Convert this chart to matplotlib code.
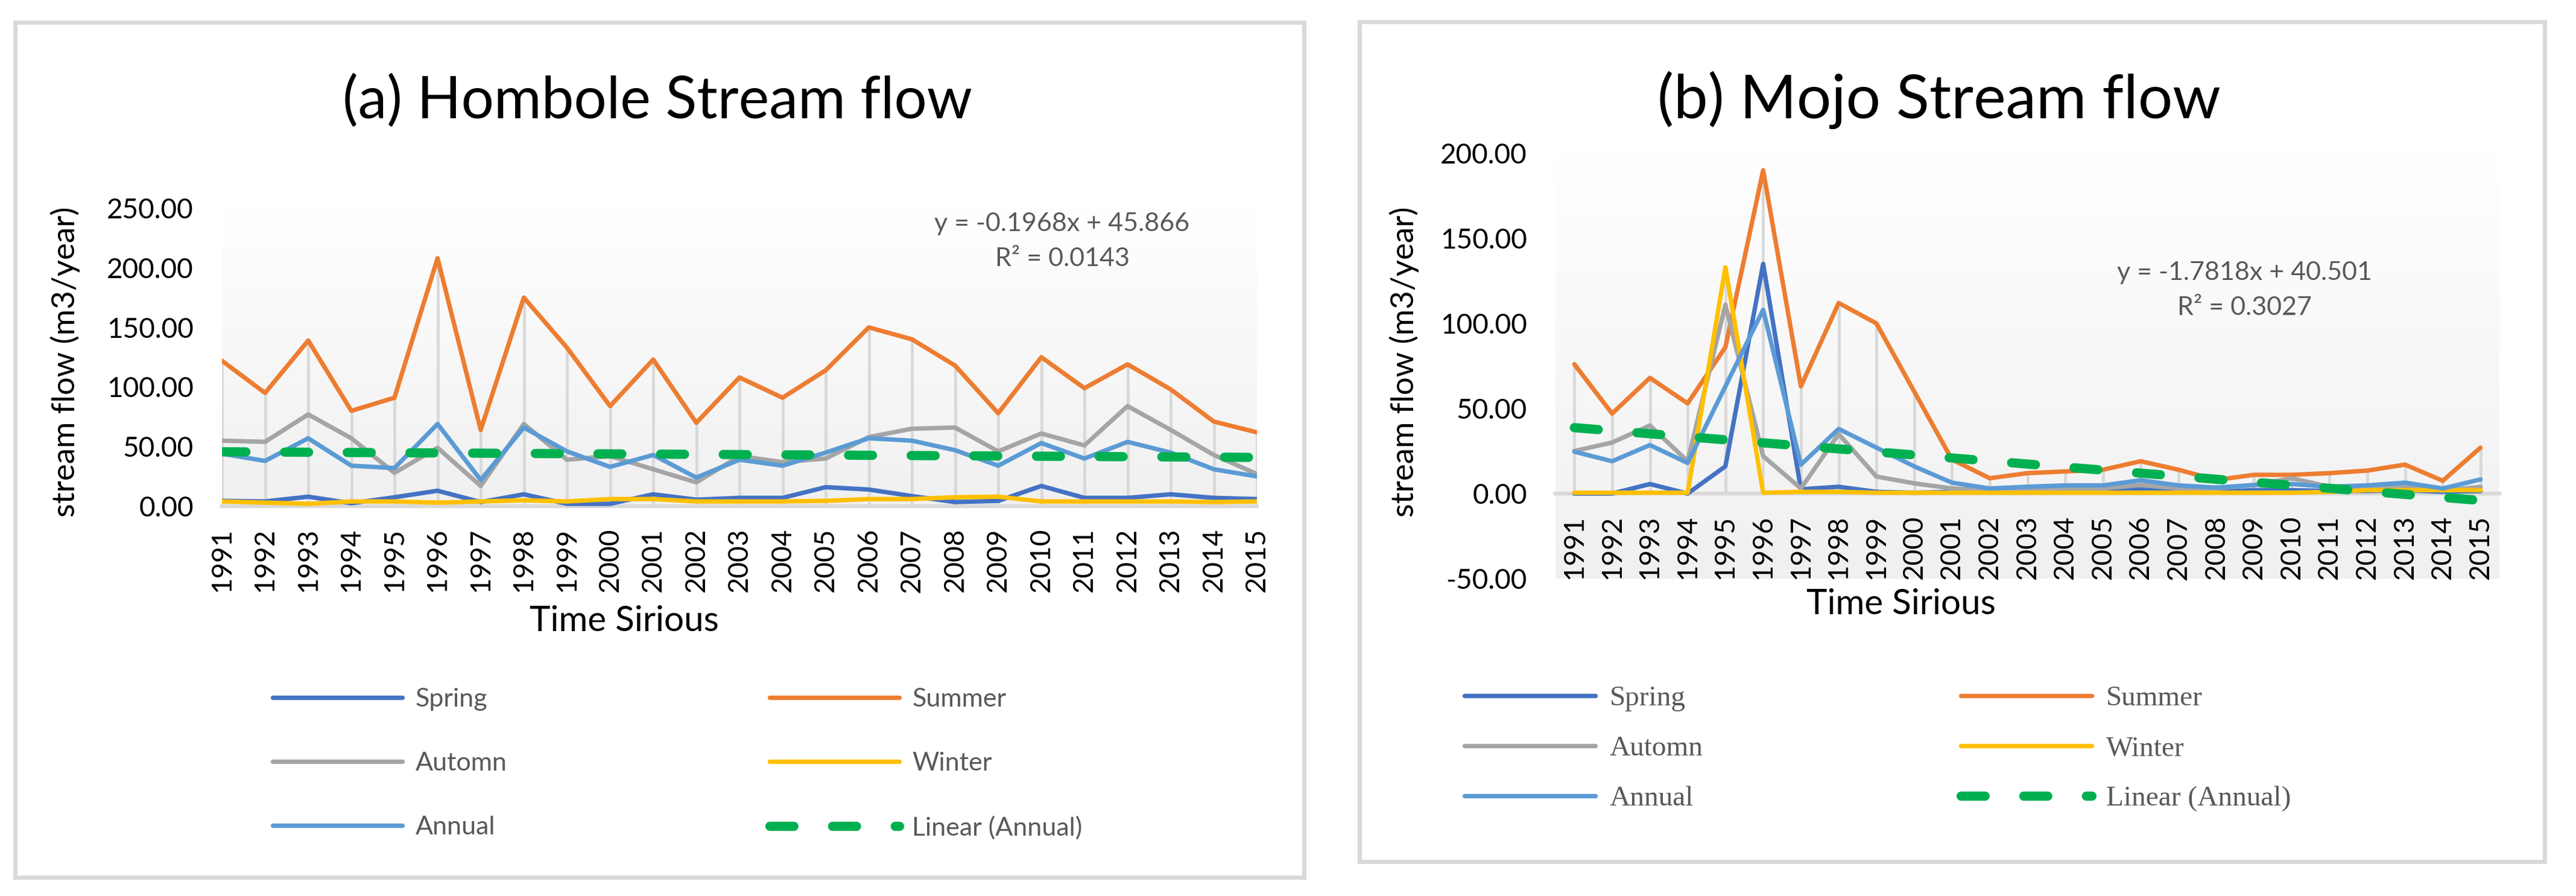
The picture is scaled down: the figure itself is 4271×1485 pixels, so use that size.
import numpy as np
import matplotlib
matplotlib.use('Agg')
from matplotlib import pyplot as plt
from matplotlib.lines import Line2D
from matplotlib.patches import Rectangle
from matplotlib.colors import LinearSegmentedColormap

years = [str(y) for y in range(1991, 2016)]

# (a) Hombole
hom_spring = [4.5, 4, 8, 2.5, 7.5, 13, 3.5, 10, 2, 2, 10, 5.5, 7, 7, 16, 14, 8.5, 3.5, 4.5, 17, 7, 7, 10, 7, 6]
hom_summer = [122, 95, 139, 80, 91, 208, 64, 175, 133, 84, 123, 70, 108, 91, 114, 150, 140, 118, 78, 125, 99, 119, 98, 71, 62]
hom_autumn = [55, 54, 77, 57, 28, 49, 17, 69, 39, 42, 31, 20, 42, 37, 40, 58, 65, 66, 46, 61, 51, 84, 64, 43, 27]
hom_winter = [4, 3, 2, 4, 4, 3, 4, 5, 4, 6, 6, 4, 4, 4, 4.5, 6, 6, 7.5, 8, 4, 4, 4, 4, 3.5, 4]
hom_annual = [44, 38, 57, 34, 32, 69, 22, 66, 46, 33, 43, 24, 39, 34, 45, 57, 55, 47, 34, 53, 40, 54, 45, 31, 25]
hom_trend = (-0.1968, 45.866)
hom_r2 = 0.0143

# (b) Mojo
mojo_spring = [0, 0, 5.6, 0, 16, 135, 2.5, 4, 1, 0.5, 1, 1, 1, 1.5, 1.5, 2.5, 1.5, 1, 2, 2, 1.5, 1.5, 2, 1, 1.5]
mojo_summer = [76, 47, 68, 53, 86, 190, 63, 112, 100, 60, 20, 9, 12, 13, 14, 19, 14, 8, 11, 11, 12, 13.5, 17, 7.5, 27]
mojo_autumn = [25, 30, 40, 19, 111, 22, 3, 35, 10, 6, 3, 2, 2.5, 3, 3, 5, 3, 3, 5, 9, 4, 3, 4, 1.7, 4]
mojo_winter = [0.5, 0.5, 0.5, 0.5, 133, 0.5, 1, 1, 0.5, 0.5, 0.5, 0.5, 0.5, 0.5, 0.5, 0.5, 0.5, 0.5, 0.5, 0.5, 1, 2, 2, 2, 2]
mojo_annual = [24.6, 19, 28.5, 18, 63, 108, 17, 38, 27, 16, 6.4, 3, 4, 4.8, 4.8, 7.8, 4.8, 3.5, 5, 5.6, 4, 4.8, 6.4, 3, 8.3]
mojo_trend = (-1.7818, 40.501)
mojo_r2 = 0.3027

labels = ['Spring', 'Summer', 'Automn', 'Winter', 'Annual']
colors = ['#4472C4', '#ED7D31', '#A5A5A5', '#FFC000', '#5B9BD5']
green = '#00B050'
grid_grey = '#D9D9D9'
text_grey = '#595959'

W, H = 4271, 1485
fig = plt.figure(figsize=(W / 100, H / 100), dpi=100)
plt.rcParams['font.family'] = ['Lato', 'DejaVu Sans']


def fx(x):
    return x / W


def fy(y):
    return 1 - y / H


def box(x0, y0, x1, y1):
    fig.patches.append(Rectangle((fx(x0), fy(y1)), fx(x1 - x0), fy(y0) - fy(y1),
                                 transform=fig.transFigure, fill=False,
                                 edgecolor=grid_grey, lw=5))


gradient = LinearSegmentedColormap.from_list('g', ['#F0F0F0', '#FFFFFF'])


def draw(ax, series, trend, xlim, ylim, yticks):
    x = np.arange(len(years))
    # axis line at zero first (moving the spine resets tick label styles)
    for sp in ['top', 'right', 'left']:
        ax.spines[sp].set_visible(False)
    ax.spines['bottom'].set_position(('data', 0))
    ax.spines['bottom'].set_color(grid_grey)
    ax.spines['bottom'].set_linewidth(4.5)
    ax.spines['bottom'].set_zorder(1.5)

    ax.imshow(np.linspace(0, 1, 256).reshape(-1, 1), cmap=gradient, origin='lower',
              extent=[0, 1, 0, 1], transform=ax.transAxes, aspect='auto', zorder=0)
    top = np.max(np.array(series), axis=0)
    ax.vlines(x, 0, top, colors=grid_grey, lw=3.5, zorder=1)
    for s, c in zip(series, colors):
        ax.plot(x, s, color=c, lw=5.3, zorder=2, solid_capstyle='round')
    t = trend[0] * (x + 1) + trend[1]
    ax.plot(x, t, color=green, lw=11, dashes=(2.6, 4.2), dash_capstyle='round', zorder=3)
    ax.set_xlim(*xlim)
    ax.set_ylim(*ylim)
    ax.set_xticks(x)
    ax.set_xticklabels(years, rotation=90, fontsize=33)
    ax.set_yticks(yticks)
    ax.set_yticklabels(['%.2f' % v for v in yticks], fontsize=33)
    ax.tick_params(axis='x', length=0, pad=26)
    ax.tick_params(axis='y', length=0, pad=34)


# panel frames
box(25, 37, 2162, 1454)
box(2254, 36, 4219, 1428)

# left panel
ax1 = fig.add_axes([fx(368), fy(839), fx(2084 - 368), fy(345) - fy(839)])
draw(ax1, [hom_spring, hom_summer, hom_autumn, hom_winter, hom_annual], hom_trend,
     (0, 24), (0, 250), [0, 50, 100, 150, 200, 250])
fig.text(fx(1090), fy(168), '(a) Hombole Stream flow', fontsize=69, ha='center', va='center')
fig.text(fx(108), fy(600), 'stream flow (m3/year)', fontsize=38, rotation=90, ha='center', va='center')
fig.text(fx(1035), fy(1030), 'Time Sirious', fontsize=42, ha='center', va='center')
fig.text(fx(1761), fy(371), 'y = %.4fx + %.3f' % hom_trend, fontsize=31, color=text_grey, ha='center', va='center')
fig.text(fx(1761), fy(429), 'R² = %.4f' % hom_r2, fontsize=31, color=text_grey, ha='center', va='center')

# right panel
ax2 = fig.add_axes([fx(2579), fy(959), fx(4144 - 2579), fy(254) - fy(959)])
draw(ax2, [mojo_spring, mojo_summer, mojo_autumn, mojo_winter, mojo_annual], mojo_trend,
     (-0.5, 24.5), (-50, 200), [-50, 0, 50, 100, 150, 200])
fig.text(fx(3215), fy(166), '(b) Mojo Stream flow', fontsize=73, ha='center', va='center')
fig.text(fx(2328), fy(600), 'stream flow (m3/year)', fontsize=38, rotation=90, ha='center', va='center')
fig.text(fx(3152), fy(1002), 'Time Sirious', fontsize=42, ha='center', va='center')
fig.text(fx(3721), fy(452), 'y = %.4fx + %.3f' % mojo_trend, fontsize=31, color=text_grey, ha='center', va='center')
fig.text(fx(3721), fy(510), 'R² = %.4f' % mojo_r2, fontsize=31, color=text_grey, ha='center', va='center')

# legends (column-major order)
handles = [Line2D([], [], color=c, lw=5.3, solid_capstyle='round') for c in colors]
handles.append(Line2D([], [], color=green, lw=11, dashes=(2.6, 4.2), dash_capstyle='round'))
names = labels + ['Linear (Annual)']
order = [0, 2, 4, 1, 3, 5]

leg1 = fig.legend([handles[i] for i in order], [names[i] for i in order], ncol=2,
                  loc='upper left', bbox_to_anchor=(fx(452), fy(1140)), frameon=False,
                  handlelength=5.0, handletextpad=0.5, columnspacing=10.1,
                  labelspacing=1.58, borderaxespad=0, borderpad=0,
                  prop={'family': ['Lato', 'DejaVu Sans'], 'size': 31})
for t in leg1.get_texts():
    t.set_color(text_grey)

leg2 = fig.legend([handles[i] for i in order], [names[i] for i in order], ncol=2,
                  loc='upper left', bbox_to_anchor=(fx(2428), fy(1136)), frameon=False,
                  handlelength=4.6, handletextpad=0.5, columnspacing=9.05,
                  labelspacing=0.85, borderaxespad=0, borderpad=0,
                  prop={'family': ['Liberation Serif', 'DejaVu Serif'], 'size': 34})
for t in leg2.get_texts():
    t.set_color(text_grey)

fig.savefig('out.png', dpi=100)
